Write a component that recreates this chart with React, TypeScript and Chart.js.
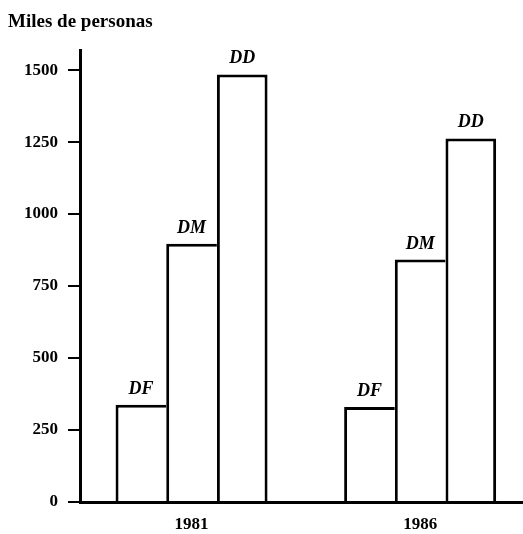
import React, { useEffect, useRef } from "react";
import { Chart, registerables } from "chart.js";

Chart.register(...registerables);

const years = [1981, 1986];
const seriesNames = ["DF", "DM", "DD"];
const dfValues = [338, 330];
const dmValues = [897, 842];
const ddValues = [1485, 1263];
const yTicks = [0, 250, 500, 750, 1000, 1250, 1500];
const yTitle = "Miles de personas";

const FONT = "'Liberation Serif', 'Times New Roman', serif";

const barLabelPlugin = {
  id: "barLabels",
  afterDatasetsDraw(chart: any) {
    const ctx = chart.ctx;
    ctx.save();
    ctx.fillStyle = "#000";
    ctx.font = `italic bold 18px ${FONT}`;
    ctx.textAlign = "center";
    ctx.textBaseline = "alphabetic";
    chart.data.datasets.forEach((ds: any, i: number) => {
      const meta = chart.getDatasetMeta(i);
      meta.data.forEach((el: any) => {
        ctx.fillText(ds.label, el.x, el.y - 11);
      });
    });
    ctx.restore();
  },
};

const titlePlugin = {
  id: "cornerTitle",
  afterDraw(chart: any) {
    const ctx = chart.ctx;
    ctx.save();
    ctx.fillStyle = "#000";
    ctx.font = `bold 19px ${FONT}`;
    ctx.textAlign = "left";
    ctx.textBaseline = "alphabetic";
    ctx.fillText(yTitle, 8, 27);
    ctx.restore();
  },
};

export default function App() {
  const ref = useRef<HTMLCanvasElement | null>(null);

  useEffect(() => {
    document.body.style.margin = "0";
    const canvas = ref.current!;
    const mk = (vals: number[]) => years.map((y, i) => ({ x: y, y: vals[i] }));
    const border = (last: boolean) => ({ top: 3, left: 3, right: last ? 3 : 0, bottom: 0 });
    const allVals = [dfValues, dmValues, ddValues];
    const chart = new Chart(canvas, {
      type: "bar",
      data: {
        datasets: seriesNames.map((name, i) => ({
          label: name,
          data: mk(allVals[i]),
          backgroundColor: "#fff",
          borderColor: "#000",
          borderWidth: border(i === seriesNames.length - 1),
          borderSkipped: "bottom",
          categoryPercentage: 0.665,
          barPercentage: 1,
        })),
      },
      options: {
        responsive: false,
        animation: false,
        layout: { padding: { top: 50, left: 0, right: 0, bottom: 0 } },
        plugins: {
          legend: { display: false },
          tooltip: { enabled: false },
          title: { display: false },
        },
        scales: {
          x: {
            type: "linear",
            offset: false,
            min: 1978.56,
            max: 1988.25,
            afterFit: (s: any) => { s.height = 32; },
            afterBuildTicks: (s: any) => { s.ticks = years.map((v) => ({ value: v })); },
            grid: { display: false, drawTicks: false, offset: false },
            border: { display: true, color: "#000", width: 3 },
            ticks: {
              color: "#000",
              font: { family: FONT, size: 17, weight: "bold" },
              padding: 12,
              maxRotation: 0,
              callback: (v: any) => String(v),
            },
          },
          y: {
            min: 0,
            max: 1570,
            afterFit: (s: any) => { s.width = 80; },
            afterBuildTicks: (s: any) => { s.ticks = yTicks.map((v) => ({ value: v })); },
            grid: {
              display: true,
              drawOnChartArea: false,
              drawTicks: true,
              tickLength: 12,
              color: "#000",
              lineWidth: 2,
            },
            border: { display: true, color: "#000", width: 3 },
            ticks: {
              color: "#000",
              font: { family: FONT, size: 17, weight: "bold" },
              padding: 10,
              callback: (v: any) => String(v),
            },
          },
        },
      },
      plugins: [barLabelPlugin, titlePlugin],
    } as any);
    return () => chart.destroy();
  }, []);

  return (
    <div style={{ width: 523, height: 534 }}>
      <canvas ref={ref} width={523} height={534} />
    </div>
  );
}
